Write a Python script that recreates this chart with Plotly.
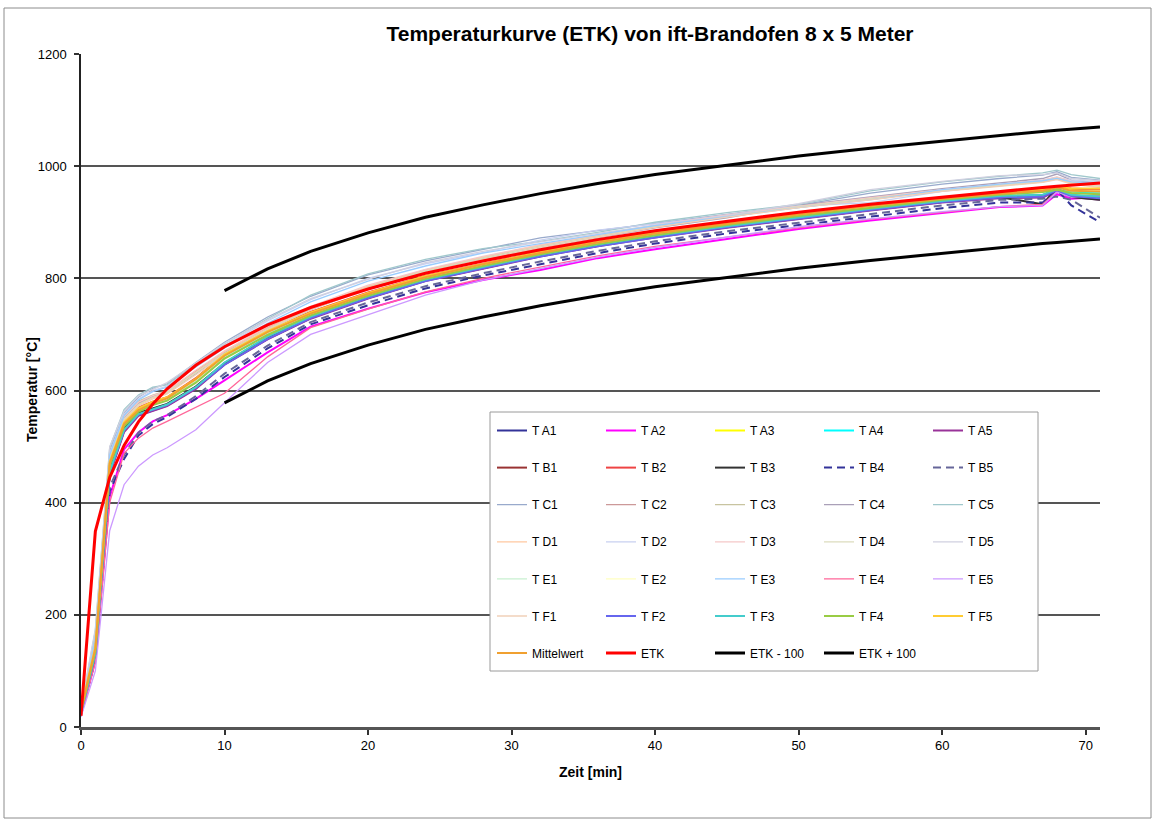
import plotly.graph_objects as go

# ---------------- data ----------------
T = [0, 1, 2, 3, 4, 5, 6, 8, 10, 13, 16, 20, 24, 28, 32, 36, 40, 45, 50, 55, 60, 64, 67, 68, 69, 71]
T_BAND = [10, 13, 16, 20, 24, 28, 32, 36, 40, 45, 50, 55, 60, 64, 67, 68, 69, 71]

ETK = [20, 349, 445, 502, 544, 576, 603, 645, 678, 717, 748, 781, 809, 831, 851, 869, 885, 902, 918, 932, 945, 955, 962, 964, 966, 970]
ETK_MINUS_100 = [578, 617, 648, 681, 709, 731, 751, 769, 785, 802, 818, 832, 845, 855, 862, 864, 866, 870]
ETK_PLUS_100 = [778, 817, 848, 881, 909, 931, 951, 969, 985, 1002, 1018, 1032, 1045, 1055, 1062, 1064, 1066, 1070]

T_A1 = [25, 128, 452, 528, 556, 565, 573, 604, 647, 692, 729, 765, 796, 818, 840, 858, 874, 891, 907, 922, 936, 944, 945, 958, 946, 942]
T_A2 = [22, 118, 410, 495, 525, 545, 556, 585, 618, 668, 714, 746, 775, 797, 815, 836, 852, 870, 888, 903, 917, 927, 930, 950, 942, 945]
T_A3 = [30, 140, 470, 540, 566, 578, 586, 620, 663, 705, 738, 773, 803, 825, 846, 864, 880, 898, 914, 929, 942, 951, 956, 962, 958, 957]
T_A4 = [28, 135, 465, 537, 563, 575, 583, 615, 658, 700, 735, 770, 800, 823, 844, 862, 878, 896, 912, 927, 941, 950, 955, 960, 955, 952]
T_A5 = [24, 125, 450, 526, 555, 564, 572, 603, 646, 691, 728, 764, 795, 817, 839, 857, 873, 890, 906, 921, 935, 943, 944, 956, 945, 940]

T_B1 = [26, 132, 456, 531, 559, 567, 575, 606, 648, 694, 731, 767, 797, 820, 841, 859, 875, 892, 908, 923, 937, 946, 948, 960, 948, 944]
T_B2 = [32, 145, 475, 545, 570, 580, 588, 622, 665, 707, 740, 775, 804, 826, 847, 865, 881, 899, 915, 930, 943, 952, 958, 963, 960, 958]
T_B3 = [27, 134, 458, 533, 560, 568, 576, 607, 649, 695, 731, 767, 797, 819, 840, 858, 874, 892, 908, 923, 937, 945, 932, 962, 945, 940]
T_B4 = [22, 120, 420, 478, 520, 540, 553, 585, 624, 675, 718, 752, 782, 805, 825, 845, 862, 880, 895, 910, 925, 935, 935, 958, 930, 900]
T_B5 = [24, 125, 428, 485, 525, 545, 556, 590, 630, 680, 722, 757, 786, 809, 830, 849, 866, 884, 899, 915, 930, 940, 942, 946, 940, 908]

T_C1 = [28, 165, 492, 560, 588, 604, 612, 650, 686, 731, 768, 806, 831, 851, 872, 885, 898, 915, 930, 952, 968, 978, 984, 990, 980, 975]
T_C2 = [25, 150, 480, 552, 578, 590, 598, 635, 668, 712, 748, 785, 815, 837, 858, 876, 893, 910, 928, 943, 957, 967, 974, 980, 972, 968]
T_C3 = [28, 155, 484, 556, 581, 592, 600, 632, 670, 710, 746, 783, 812, 836, 856, 874, 892, 912, 926, 942, 956, 966, 972, 978, 970, 966]
T_C4 = [26, 148, 478, 550, 576, 588, 596, 630, 667, 708, 744, 782, 812, 834, 855, 872, 890, 908, 930, 945, 960, 970, 978, 986, 975, 970]
T_C5 = [32, 172, 498, 566, 592, 606, 610, 646, 683, 728, 770, 808, 834, 853, 866, 882, 900, 917, 932, 956, 972, 982, 988, 993, 985, 978]

T_D1 = [24, 145, 475, 548, 574, 587, 596, 633, 669, 711, 747, 786, 814, 838, 859, 877, 894, 911, 927, 941, 956, 965, 972, 977, 970, 964]
T_D2 = [30, 160, 488, 558, 585, 600, 608, 645, 680, 724, 762, 800, 826, 846, 868, 886, 897, 913, 929, 935, 955, 968, 975, 980, 975, 972]
T_D3 = [27, 152, 482, 553, 579, 591, 599, 636, 671, 714, 750, 788, 816, 839, 860, 878, 895, 913, 929, 944, 958, 968, 975, 981, 973, 967]
T_D4 = [25, 147, 478, 549, 575, 588, 597, 631, 666, 709, 745, 784, 813, 836, 857, 875, 893, 910, 928, 942, 957, 966, 973, 979, 971, 965]
T_D5 = [35, 175, 500, 563, 590, 602, 614, 649, 684, 726, 764, 798, 828, 848, 865, 880, 895, 912, 933, 958, 973, 983, 985, 988, 978, 974]

T_E1 = [26, 138, 468, 538, 564, 576, 584, 616, 660, 702, 736, 771, 801, 824, 845, 863, 879, 897, 913, 928, 942, 951, 957, 961, 956, 954]
T_E2 = [29, 142, 472, 542, 567, 579, 587, 619, 662, 704, 737, 772, 802, 825, 846, 864, 880, 898, 914, 929, 943, 952, 957, 962, 957, 956]
T_E3 = [27, 158, 485, 555, 583, 598, 606, 642, 676, 720, 758, 795, 822, 845, 862, 878, 894, 910, 926, 940, 958, 968, 974, 978, 972, 970]
T_E4 = [20, 115, 400, 488, 515, 533, 545, 570, 595, 660, 712, 745, 776, 800, 820, 840, 857, 874, 890, 905, 918, 928, 932, 955, 945, 948]
T_E5 = [18, 100, 350, 432, 465, 485, 498, 530, 578, 650, 700, 735, 770, 797, 817, 838, 855, 873, 892, 906, 919, 928, 930, 954, 945, 950]

T_F1 = [23, 142, 472, 545, 572, 585, 594, 628, 664, 707, 744, 782, 811, 834, 855, 873, 891, 909, 926, 940, 955, 964, 971, 976, 968, 962]
T_F2 = [25, 130, 454, 529, 557, 566, 574, 605, 646, 692, 729, 765, 795, 818, 839, 857, 873, 891, 907, 922, 936, 944, 946, 957, 947, 943]
T_F3 = [26, 131, 455, 530, 558, 567, 575, 606, 650, 696, 732, 768, 798, 820, 842, 860, 876, 893, 909, 924, 938, 947, 949, 959, 949, 946]
T_F4 = [27, 136, 466, 536, 562, 574, 582, 614, 657, 699, 734, 769, 799, 822, 843, 861, 877, 895, 911, 926, 940, 949, 954, 958, 952, 950]
T_F5 = [31, 143, 473, 543, 568, 580, 588, 621, 664, 706, 739, 774, 804, 826, 847, 865, 881, 899, 915, 930, 944, 953, 958, 964, 960, 960]

MITTELWERT = [29, 140, 470, 540, 565, 577, 586, 620, 662, 704, 737, 772, 802, 825, 845, 864, 880, 897, 914, 929, 942, 951, 956, 962, 956, 955]

X_TICKS = [0, 10, 20, 30, 40, 50, 60, 70]
Y_TICKS = [0, 200, 400, 600, 800, 1000, 1200]

# ---------------- styling ----------------
FONT = "Liberation Sans, Arial, sans-serif"

# (name, x, y, color, width, dash, legend row)
series = [
    ("T A1", T, T_A1, "#333399", 2, None, 0),
    ("T A2", T, T_A2, "#ff00ff", 2, None, 0),
    ("T A3", T, T_A3, "#ffff00", 2, None, 0),
    ("T A4", T, T_A4, "#00ffff", 2, None, 0),
    ("T A5", T, T_A5, "#993399", 2, None, 0),
    ("T B1", T, T_B1, "#993333", 2, None, 1),
    ("T B2", T, T_B2, "#ee4444", 2, None, 1),
    ("T B3", T, T_B3, "#333333", 2, None, 1),
    ("T B4", T, T_B4, "#333399", 2, "8px,5px", 1),
    ("T B5", T, T_B5, "#666699", 2, "8px,5px", 1),
    ("T C1", T, T_C1, "#99aacc", 1.3, None, 2),
    ("T C2", T, T_C2, "#cc9999", 1.3, None, 2),
    ("T C3", T, T_C3, "#c8c4a0", 1.3, None, 2),
    ("T C4", T, T_C4, "#aaa0b8", 1.3, None, 2),
    ("T C5", T, T_C5, "#a0c8cc", 1.3, None, 2),
    ("T D1", T, T_D1, "#ffc8a0", 1.3, None, 3),
    ("T D2", T, T_D2, "#c8d0f0", 1.3, None, 3),
    ("T D3", T, T_D3, "#f5c8c8", 1.3, None, 3),
    ("T D4", T, T_D4, "#dcdcbe", 1.3, None, 3),
    ("T D5", T, T_D5, "#d0d0e0", 1.3, None, 3),
    ("T E1", T, T_E1, "#c8f0d0", 1.3, None, 4),
    ("T E2", T, T_E2, "#ffffc0", 1.3, None, 4),
    ("T E3", T, T_E3, "#99ccff", 1.3, None, 4),
    ("T E4", T, T_E4, "#ff6699", 1.3, None, 4),
    ("T E5", T, T_E5, "#cc99ff", 1.3, None, 4),
    ("T F1", T, T_F1, "#f0d0b8", 1.3, None, 5),
    ("T F2", T, T_F2, "#6666ee", 2, None, 5),
    ("T F3", T, T_F3, "#44cccc", 2, None, 5),
    ("T F4", T, T_F4, "#99cc44", 2, None, 5),
    ("T F5", T, T_F5, "#ffcc33", 2, None, 5),
    ("Mittelwert", T, MITTELWERT, "#f0a030", 2, None, 6),
    ("ETK", T, ETK, "#ff0000", 3, None, 6),
    ("ETK - 100", T_BAND, ETK_MINUS_100, "#000000", 3, None, 6),
    ("ETK + 100", T_BAND, ETK_PLUS_100, "#000000", 3, None, 6),
]

# plot area in pixels
W, H = 1155, 819
L, R, TOP, BOT = 81, 55, 54, 92
PW, PH = W - L - R, H - TOP - BOT


def px_x(p):
    return (p - L) / PW


def px_y(p):
    return (H - BOT - p) / PH


fig = go.Figure()
for name, xs, ys, color, width, dash, row in series:
    fig.add_trace(go.Scatter(
        x=xs, y=ys, mode="lines", name=name,
        line=dict(color=color, width=width, dash=dash),
        legend="legend" if row == 0 else f"legend{row + 1}",
        hoverinfo="skip",
    ))

legend_rows = {}
row_y0 = 430.5
row_step = 37.1
for row in range(7):
    key = "legend" if row == 0 else f"legend{row + 1}"
    legend_rows[key] = dict(
        orientation="h",
        x=px_x(492), xanchor="left",
        y=px_y(row_y0 + row * row_step), yanchor="middle",
        bgcolor="rgba(0,0,0,0)", borderwidth=0,
        font=dict(family=FONT, size=12, color="#000000"),
        entrywidth=64, entrywidthmode="pixels",
        traceorder="normal",
    )

fig.update_layout(
    width=W, height=H,
    margin=dict(l=L, r=R, t=TOP, b=BOT),
    paper_bgcolor="white", plot_bgcolor="white",
    font=dict(family=FONT, color="#000000"),
    title=dict(
        text="<b>Temperaturkurve (ETK) von ift-Brandofen 8 x 5 Meter</b>",
        x=650 / W, xanchor="center", xref="container",
        y=1 - 34 / H, yanchor="middle", yref="container",
        font=dict(family=FONT, size=21, color="#000000"),
    ),
    xaxis=dict(
        range=[0, 71], tickvals=X_TICKS, ticks="outside", ticklen=5,
        tickcolor="#333333", tickwidth=1.5,
        showline=True, linecolor="#555555", linewidth=2.5,
        showgrid=False, zeroline=False,
        tickfont=dict(family=FONT, size=13, color="#000000"),
        title=dict(text="<b>Zeit [min]</b>", standoff=15,
                   font=dict(family=FONT, size=14, color="#000000")),
    ),
    yaxis=dict(
        range=[0, 1200], tickvals=Y_TICKS, ticks="outside", ticklen=5,
        tickcolor="#333333", tickwidth=1.5,
        showline=True, linecolor="#222222", linewidth=1.5,
        showgrid=True, gridcolor="#555555", gridwidth=1.5,
        zeroline=False, ticklabelstandoff=5,
        tickfont=dict(family=FONT, size=13, color="#000000"),
    ),
    annotations=[
        # y axis title, placed like the original (close to the shorter labels)
        dict(text="<b>Temperatur [°C]</b>", xref="paper", yref="paper",
             x=px_x(32), y=px_y(390), xanchor="center", yanchor="middle",
             textangle=-90, showarrow=False,
             font=dict(family=FONT, size=14, color="#000000")),
    ],
    shapes=[
        # outer chart frame
        dict(type="rect", xref="paper", yref="paper",
             x0=px_x(4), x1=px_x(1151), y0=px_y(818), y1=px_y(8),
             line=dict(color="#8c8c8c", width=1), fillcolor="rgba(0,0,0,0)",
             layer="below"),
        # legend box
        dict(type="rect", xref="paper", yref="paper",
             x0=px_x(490), x1=px_x(1038), y0=px_y(671), y1=px_y(412),
             line=dict(color="#9a9a9a", width=1), fillcolor="white",
             layer="above"),
    ],
    **legend_rows,
)

fig.write_html("out.html", config={"displayModeBar": False},
               post_script="document.body.style.margin='0';")
